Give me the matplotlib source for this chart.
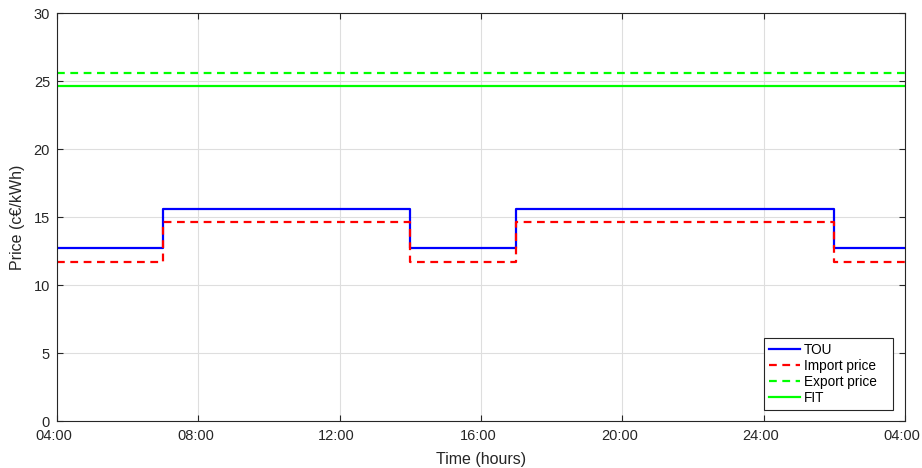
import matplotlib.pyplot as plt
from matplotlib.transforms import ScaledTranslation

plt.rcParams['font.family'] = ['Liberation Sans', 'DejaVu Sans']

# Tariff breakpoints (hours since midnight, continuing past 24h) and prices in c€/kWh
hours = [4, 7, 14, 17, 26, 28]
tou = [12.7, 15.6, 12.7, 15.6, 12.7, 12.7]
import_price = [11.7, 14.6, 11.7, 14.6, 11.7, 11.7]
export_price = [25.6, 25.6, 25.6, 25.6, 25.6, 25.6]
fit = [24.6, 24.6, 24.6, 24.6, 24.6, 24.6]

tick_hours = [4, 8, 12, 16, 20, 24, 28]
tick_labels = ["04:00", "08:00", "12:00", "16:00", "20:00", "24:00", "04:00"]

fig = plt.figure(figsize=(9.22, 4.68), dpi=100)
ax = fig.add_axes([0.0618, 0.1004, 0.9198, 0.8718])

ax.step(hours, tou, where='post', color=(0, 0, 1), lw=1.6, label="TOU")
ax.step(hours, import_price, where='post', color=(1, 0, 0), lw=1.6,
        dashes=(3.5, 2.5), label="Import price")
ax.step(hours, export_price, where='post', color=(0, 1, 0), lw=1.6,
        dashes=(3.5, 2.5), label="Export price")
ax.step(hours, fit, where='post', color=(0, 1, 0), lw=1.6, label="FIT")

ax.set_xlim(4, 28)
ax.set_ylim(0, 30)
ax.set_xticks(tick_hours)
ax.set_xticklabels(tick_labels)
ax.set_yticks(range(0, 31, 5))

ax.grid(True, color='#dedede', lw=0.8)
ax.set_axisbelow(True)
for s in ax.spines.values():
    s.set_color('#262626')
    s.set_linewidth(0.8)
ax.tick_params(direction='in', length=4, width=0.8, colors='#262626',
               labelsize=10.5, top=True, right=True)
ax.tick_params(axis='x', pad=6)
ax.tick_params(axis='y', pad=5)

# nudge the time labels a little to the left so the last one stays inside
shift = ScaledTranslation(-3 / 100, 0, fig.dpi_scale_trans)
for lbl in ax.get_xticklabels():
    lbl.set_transform(lbl.get_transform() + shift)

ax.set_xlabel("Time (hours)", fontsize=11.5, color='#262626', labelpad=6)
ax.set_ylabel("Price (c€/kWh)", fontsize=11.5, color='#262626', labelpad=6)

leg = ax.legend(loc='lower left', bbox_to_anchor=(0.8337, 0.027, 0.1521, 0.179),
                mode='expand', fontsize=9.8,
                fancybox=False, framealpha=1, edgecolor='#262626',
                borderpad=0.35, labelspacing=0.15, handlelength=2.3,
                handletextpad=0.3, borderaxespad=0)
leg.get_frame().set_linewidth(0.8)

fig.savefig("out.png", dpi=100)
